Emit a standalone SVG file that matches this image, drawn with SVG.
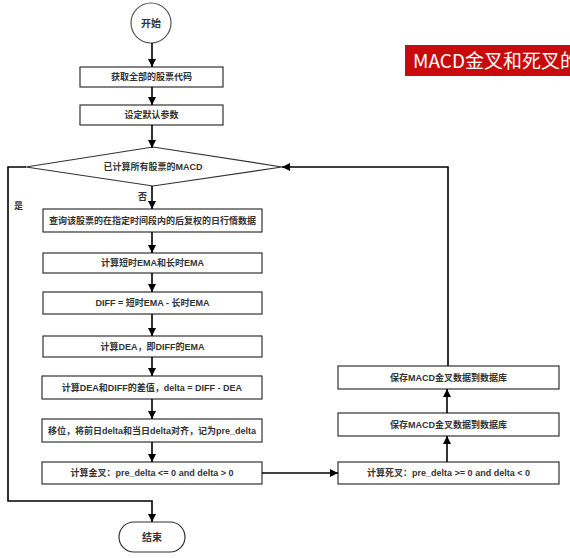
<svg xmlns="http://www.w3.org/2000/svg" width="570" height="558" viewBox="0 0 570 558">
<defs>
<marker id="ah" markerWidth="10" markerHeight="10" refX="9" refY="5" orient="auto" markerUnits="userSpaceOnUse">
<path d="M1,1 L9,5 L1,9 Z" fill="#000"/>
</marker>
<style>
.box{fill:#fff;stroke:#333;stroke-width:1.2}
.t{font-family:"Liberation Sans","Noto Sans CJK SC",sans-serif;font-size:9px;font-weight:bold;fill:#333;text-anchor:middle;dominant-baseline:central}
.c{fill:none;stroke:#000;stroke-width:1.6}
.lbl{font-family:"Liberation Sans","Noto Sans CJK SC",sans-serif;font-size:9px;font-weight:bold;fill:#333}
</style>
</defs>
<rect width="570" height="558" fill="#fff"/>
<g id="banner">
<rect x="405" y="45" width="170" height="31" fill="#c80a0a"/>
<text x="413" y="68" font-family="'Noto Sans CJK SC','Liberation Serif',serif" font-size="19" fill="#fff">MACD金叉和死叉的</text>
</g>
<g id="start"><circle cx="151" cy="23" r="20" fill="#fff" stroke="#555" stroke-width="1.2"/><text class="t" x="151" y="23" style="font-size:10px">开始</text></g>
<g id="n1"><rect class="box" x="80" y="67" width="143" height="20"/><text class="t" x="151.5" y="77">获取全部的股票代码</text></g>
<g id="n2"><rect class="box" x="80" y="105" width="143" height="20"/><text class="t" x="151.5" y="115">设定默认参数</text></g>
<g id="d1"><polygon class="box" points="26,167 153,147 282,167 153,186"/><text class="t" x="153" y="166.5">已计算所有股票的MACD</text></g>
<g id="n3"><rect class="box" x="43" y="209" width="219" height="23"/><text class="t" x="152.5" y="220.5">查询该股票的在指定时间段内的后复权的日行情数据</text></g>
<g id="n4"><rect class="box" x="43" y="253" width="219" height="20"/><text class="t" x="152.5" y="263">计算短时EMA和长时EMA</text></g>
<g id="n5"><rect class="box" x="43" y="292" width="219" height="22"/><text class="t" x="152.5" y="303">DIFF = 短时EMA - 长时EMA</text></g>
<g id="n6"><rect class="box" x="43" y="336" width="219" height="21"/><text class="t" x="152.5" y="346.5">计算DEA，即DIFF的EMA</text></g>
<g id="n7"><rect class="box" x="42" y="376" width="220" height="23"/><text class="t" x="152" y="387.5">计算DEA和DIFF的差值，delta = DIFF - DEA</text></g>
<g id="n8"><rect class="box" x="42" y="419" width="220" height="23"/><text class="t" x="152" y="430.5">移位，将前日delta和当日delta对齐，记为pre_delta</text></g>
<g id="n9"><rect class="box" x="42" y="462" width="220" height="22"/><text class="t" x="152" y="473">计算金叉：pre_delta &lt;= 0 and delta &gt; 0</text></g>
<g id="n10"><rect class="box" x="338" y="462" width="221" height="22"/><text class="t" x="448.5" y="473">计算死叉：pre_delta &gt;= 0 and delta &lt; 0</text></g>
<g id="n11"><rect class="box" x="338" y="413" width="221" height="23"/><text class="t" x="448.5" y="424.5">保存MACD金叉数据到数据库</text></g>
<g id="n12"><rect class="box" x="338" y="366" width="221" height="23"/><text class="t" x="448.5" y="377.5">保存MACD金叉数据到数据库</text></g>
<g id="end"><rect x="119" y="522" width="66" height="30" rx="15" ry="15" fill="#fff" stroke="#333" stroke-width="1.2"/><text class="t" x="152" y="537" style="font-size:10px">结束</text></g>
<g id="connectors">
<line class="c" x1="152" y1="43" x2="152" y2="67" marker-end="url(#ah)"/>
<line class="c" x1="152" y1="87" x2="152" y2="105" marker-end="url(#ah)"/>
<line class="c" x1="152" y1="125" x2="152" y2="148" marker-end="url(#ah)"/>
<line class="c" x1="152" y1="186" x2="152" y2="209" marker-end="url(#ah)"/>
<line class="c" x1="152" y1="232" x2="152" y2="253" marker-end="url(#ah)"/>
<line class="c" x1="152" y1="273" x2="152" y2="292" marker-end="url(#ah)"/>
<line class="c" x1="152" y1="314" x2="152" y2="336" marker-end="url(#ah)"/>
<line class="c" x1="152" y1="357" x2="152" y2="376" marker-end="url(#ah)"/>
<line class="c" x1="152" y1="399" x2="152" y2="419" marker-end="url(#ah)"/>
<line class="c" x1="152" y1="442" x2="152" y2="462" marker-end="url(#ah)"/>
<polyline class="c" points="26,167 8,167 8,501 152,501 152,522" marker-end="url(#ah)"/>
<line class="c" x1="262" y1="473" x2="338" y2="473" marker-end="url(#ah)"/>
<line class="c" x1="447" y1="462" x2="447" y2="436" marker-end="url(#ah)"/>
<line class="c" x1="447" y1="413" x2="447" y2="389" marker-end="url(#ah)"/>
<polyline class="c" points="448,366 448,167 282,167" marker-end="url(#ah)"/>
<text class="lbl" x="138" y="200">否</text>
<text class="lbl" x="14" y="209">是</text>
</g>
</svg>
